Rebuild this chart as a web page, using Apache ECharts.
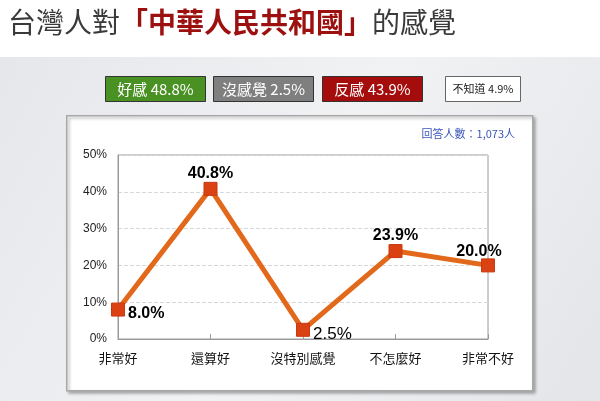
<!DOCTYPE html>
<html>
<head>
<meta charset="utf-8">
<script src="https://cdn.jsdelivr.net/npm/echarts@6/dist/echarts.min.js"></script>
<style>
  html, body { margin: 0; padding: 0; background: #fff; }
  #chart { width: 600px; height: 401px; }
</style>
</head>
<body>
<div id="chart"></div>
<script>
// 資料
var categories = ['非常好', '還算好', '沒特別感覺', '不怎麼好', '非常不好'];
var values = [8.0, 40.8, 2.5, 23.9, 20.0];
var yTicks = [0, 10, 20, 30, 40, 50];
var summary = [
  { text: '好感 48.8%', bg: '#4a9124', fg: '#ffffff' },
  { text: '沒感覺 2.5%', bg: '#7f7f7f', fg: '#ffffff' },
  { text: '反感 43.9%', bg: '#a50d0d', fg: '#ffffff' },
  { text: '不知道 4.9%', bg: '#ffffff', fg: '#222222' }
];

var FONT = '"Noto Sans CJK TC", "Noto Sans", sans-serif';

// 每個點的標籤位置
var labelPos = [
  { position: 'right', fontWeight: 'bold', offset: [-2, 4] },
  { position: 'top', fontWeight: 'bold', offset: [0, 5] },
  { position: 'right', fontWeight: 'normal', offset: [-2, 5] },
  { position: 'top', fontWeight: 'bold', offset: [0, 5] },
  { position: 'top', fontWeight: 'bold', offset: [-9, 6] }
];

var seriesData = values.map(function (v, i) {
  return {
    value: v,
    label: {
      show: true,
      position: labelPos[i].position,
      offset: labelPos[i].offset,
      fontWeight: labelPos[i].fontWeight,
      fontSize: labelPos[i].fontWeight === 'bold' ? 16 : 17,
      color: '#000',
      fontFamily: 'Liberation Sans, Arial, sans-serif',
      formatter: function (p) { return p.value.toFixed(1) + '%'; }
    }
  };
});

// 上方摘要方塊
var boxX = [105, 213, 322, 445];
var boxW = [100, 100, 100, 75];
var summaryGraphics = summary.map(function (s, i) {
  return {
    type: 'group',
    left: boxX[i], top: 76,
    children: [
      { type: 'rect', shape: { x: 0, y: 0, width: boxW[i], height: 25 },
        style: { fill: s.bg, stroke: i === 3 ? '#666' : '#333', lineWidth: 1 } },
      { type: 'text', x: boxW[i] / 2, y: 12.5,
        style: { text: s.text, fill: s.fg, align: 'center', verticalAlign: 'middle',
                 fontSize: i === 3 ? 11 : 15, fontFamily: FONT } }
    ]
  };
});

var chart = echarts.init(document.getElementById('chart'));
chart.setOption({
  backgroundColor: '#ffffff',
  animation: false,
  graphic: [
    // 灰色背景
    { type: 'rect', left: 0, top: 57, z: -10,
      shape: { width: 600, height: 344 },
      style: { fill: new echarts.graphic.LinearGradient(0, 0, 1, 1, [
        { offset: 0, color: '#e6e7ea' },
        { offset: 0.5, color: '#f1f2f4' },
        { offset: 1, color: '#e4e5e8' }
      ]) } },
    // 白色面板
    { type: 'rect', left: 66, top: 115, z: -5,
      shape: { width: 466, height: 275 },
      style: { fill: '#ffffff', stroke: '#a8a8a8', lineWidth: 1.5,
               shadowColor: 'rgba(0,0,0,0.3)', shadowBlur: 3, shadowOffsetX: 2, shadowOffsetY: 2 } },
    // 標題
    { type: 'text', left: 8, top: 8,
      style: { rich: {
        a: { fill: '#3a3a3a', fontSize: 28, fontFamily: FONT },
        b: { fill: '#9c1010', fontSize: 28, fontFamily: FONT, fontWeight: 'bold' }
      }, text: '{a|台灣人對}{b|「中華人民共和國」}{a|的感覺}' } },
    { type: 'text', right: 85, top: 128,
      style: { text: '回答人數：1,073人', fill: '#3a56b8', fontSize: 11, fontFamily: FONT } }
  ].concat(summaryGraphics),
  grid: { left: 118, right: 112, top: 155, bottom: 62, show: true, borderColor: '#9a9a9a', borderWidth: 1 },
  xAxis: {
    type: 'category',
    data: categories,
    boundaryGap: false,
    axisLine: { lineStyle: { color: '#9a9a9a' } },
    axisTick: { show: true, alignWithLabel: true, length: -5, lineStyle: { color: '#9a9a9a' } },
    axisLabel: { color: '#111', fontSize: 13, fontFamily: FONT, margin: 13 }
  },
  yAxis: {
    type: 'value',
    min: yTicks[0], max: yTicks[yTicks.length - 1], interval: 10,
    axisLine: { show: true, lineStyle: { color: '#9a9a9a' } },
    axisTick: { show: false },
    splitLine: { lineStyle: { color: '#d8d8d8', type: 'dashed' } },
    axisLabel: { color: '#222', fontSize: 12, margin: 11, fontFamily: 'Liberation Sans, Arial, sans-serif',
                 formatter: '{value}%' }
  },
  series: [{
    type: 'line',
    data: seriesData,
    symbol: 'rect',
    symbolSize: 13,
    lineStyle: { color: '#e2691b', width: 5 },
    itemStyle: { color: '#db4213', borderColor: '#c9380e', borderWidth: 1 }
  }]
});
</script>
</body>
</html>
